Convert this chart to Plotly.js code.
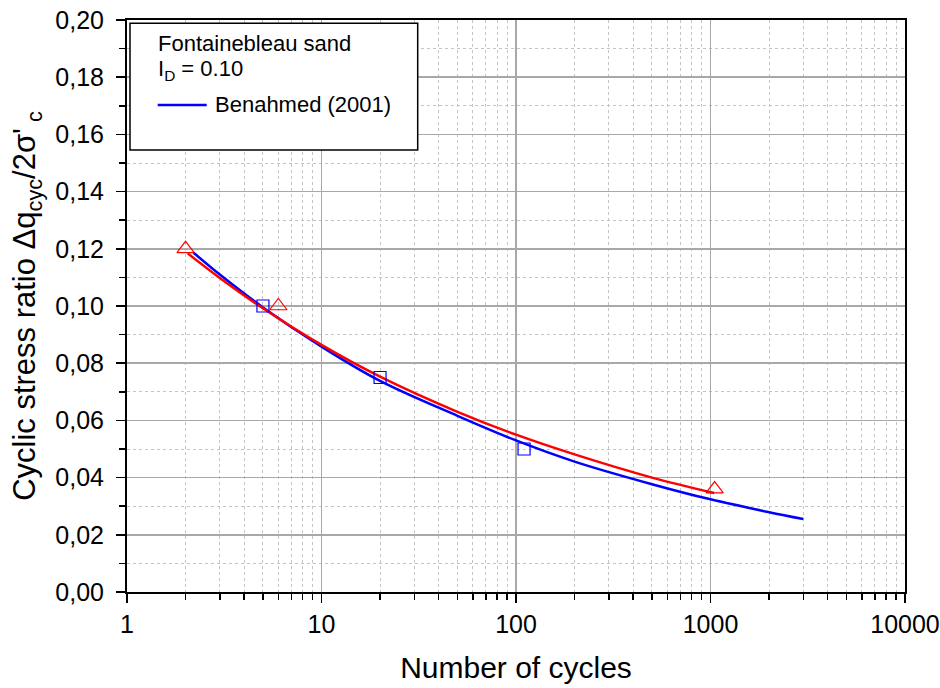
<!DOCTYPE html>
<html>
<head>
<meta charset="utf-8">
<script src="https://cdn.plot.ly/plotly-3.0.1.min.js"></script>
<style>html,body{margin:0;padding:0;background:#fff;}#chart{width:940px;height:688px;}</style>
</head>
<body>
<div id="chart"></div>
<script>
// Benahmed (2001) curve (blue)
var blueLineX = [2.2, 3, 5, 10, 20, 50, 100, 200, 500, 1000, 2000, 3000];
var blueLineY = [0.1186, 0.1110, 0.0995, 0.0858, 0.0738, 0.0616, 0.0530, 0.0456, 0.0377, 0.0324, 0.0279, 0.0255];
// Fitted curve (red)
var redLineX = [2.05, 3, 5, 10, 20, 50, 100, 200, 500, 1045];
var redLineY = [0.1184, 0.1098, 0.0992, 0.0864, 0.0753, 0.0630, 0.0550, 0.0481, 0.0400, 0.0346];
// Test points
var squareX = [5, 20, 110];
var squareY = [0.100, 0.075, 0.050];
var triangleX = [2, 6, 1050];
var triangleY = [0.120, 0.100, 0.036];
// Axis ticks
var xTickVals = [1, 10, 100, 1000, 10000];
var xTickText = ['1', '10', '100', '1000', '10000'];
// Legend texts
var legendLine1 = 'Fontainebleau sand';
var legendLine2 = 'I<sub>D</sub> = 0.10';
var legendEntry = 'Benahmed (2001)';

var FONT = '"Liberation Sans", Arial, sans-serif';

var traces = [
  {x: blueLineX, y: blueLineY, mode: 'lines', line: {color: '#0000ff', width: 2.5, shape: 'spline', smoothing: 1}, showlegend: false, hoverinfo: 'skip'},
  {x: redLineX, y: redLineY, mode: 'lines', line: {color: '#ff0000', width: 2.5, shape: 'spline', smoothing: 1}, showlegend: false, hoverinfo: 'skip'},
  {x: squareX, y: squareY, mode: 'markers', marker: {symbol: 'square-open', size: 12, color: '#0000ff', line: {width: 1.2, color: '#0000ff'}}, showlegend: false},
  {x: triangleX, y: triangleY, mode: 'markers', marker: {symbol: 'triangle-up-open', size: 15, color: '#ff0000', line: {width: 1.2, color: '#ff0000'}}, showlegend: false}
];

function px2x(p){ return (p - 127) / 778; }
function px2y(p){ return (592 - p) / 572; }

var layout = {
  width: 940, height: 688,
  margin: {l: 127, r: 35, t: 20, b: 96},
  paper_bgcolor: '#ffffff', plot_bgcolor: '#ffffff',
  separators: ',.',
  font: {family: FONT, color: '#000000', size: 25},
  showlegend: false,
  xaxis: {
    type: 'log', range: [0, 4],
    tickmode: 'array', tickvals: xTickVals, ticktext: xTickText,
    ticks: 'outside', ticklen: 9, tickwidth: 1.5, tickcolor: '#000',
    tickfont: {size: 25, family: FONT},
    showline: true, linecolor: '#000', linewidth: 2, mirror: true,
    showgrid: true, gridcolor: '#a8a8a8', gridwidth: 1.5, zeroline: false,
    minor: {dtick: 'D1', ticks: 'outside', ticklen: 6, tickwidth: 1.5, tickcolor: '#000', showgrid: true, gridcolor: '#c4c4c4', griddash: 'dot', gridwidth: 1},
    title: {text: 'Number of cycles', font: {size: 30, family: FONT}, standoff: 20},
    automargin: false
  },
  yaxis: {
    range: [0, 0.2], tickmode: 'linear', tick0: 0, dtick: 0.02, tickformat: '.2f',
    ticks: 'outside', ticklen: 9, tickwidth: 1.5, tickcolor: '#000',
    tickfont: {size: 25, family: FONT}, ticklabelstandoff: 7,
    showline: true, linecolor: '#000', linewidth: 2, mirror: true,
    showgrid: true, gridcolor: '#a8a8a8', gridwidth: 1.5, zeroline: false,
    minor: {dtick: 0.01, ticks: 'outside', ticklen: 6, tickwidth: 1.5, tickcolor: '#000', showgrid: true, gridcolor: '#c4c4c4', griddash: 'dot', gridwidth: 1},
    title: {text: "Cyclic stress ratio Δq<sub>cyc</sub>/2σ'<sub> c</sub>", font: {size: 31, family: FONT}, standoff: 10},
    automargin: false
  },
  shapes: [
    {type: 'rect', xref: 'paper', yref: 'paper', x0: px2x(130), x1: px2x(417.7), y0: px2y(150), y1: px2y(23.3),
     line: {color: '#000', width: 1.5}, fillcolor: '#ffffff', layer: 'above'},
    {type: 'line', xref: 'paper', yref: 'paper', x0: px2x(157.7), x1: px2x(206.7), y0: px2y(105), y1: px2y(105),
     line: {color: '#0000ff', width: 2.5}, layer: 'above'}
  ],
  annotations: [
    {xref: 'paper', yref: 'paper', x: px2x(156), y: px2y(43), xanchor: 'left', yanchor: 'middle', showarrow: false,
     text: legendLine1, font: {size: 22, family: FONT, color: '#000'}},
    {xref: 'paper', yref: 'paper', x: px2x(156), y: px2y(70), xanchor: 'left', yanchor: 'middle', showarrow: false,
     text: legendLine2, font: {size: 22, family: FONT, color: '#000'}},
    {xref: 'paper', yref: 'paper', x: px2x(213), y: px2y(104.5), xanchor: 'left', yanchor: 'middle', showarrow: false,
     text: legendEntry, font: {size: 22, family: FONT, color: '#000'}}
  ]
};

Plotly.newPlot('chart', traces, layout, {staticPlot: true, displayModeBar: false});
</script>
</body>
</html>
